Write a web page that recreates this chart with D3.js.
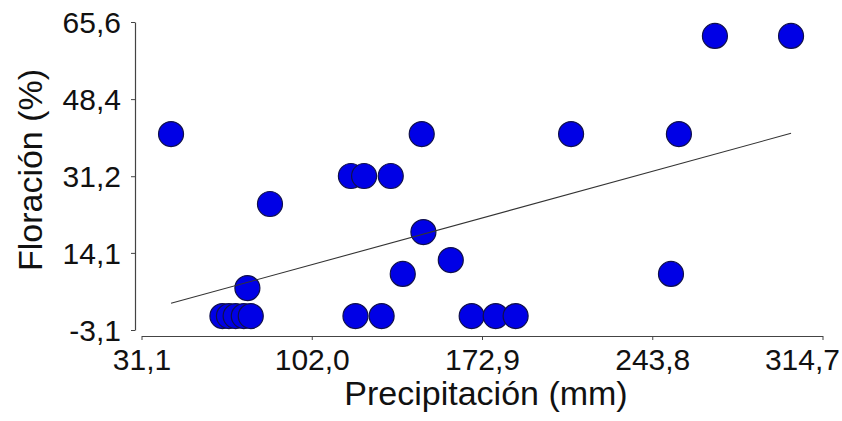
<!DOCTYPE html>
<html>
<head>
<meta charset="utf-8">
<script src="https://cdn.jsdelivr.net/npm/d3@7"></script>
<style>
  html, body { margin: 0; padding: 0; background: #fff; }
  svg { display: block; }
  text { font-family: "Liberation Sans", Arial, sans-serif; fill: #111; }
</style>
</head>
<body>
<svg id="chart" width="842" height="421"></svg>
<script>
// Precipitation (mm) and flowering (%) per observation
const precipitacion = [43.4, 64.8, 67.5, 70.3, 73.7, 76.6, 75.2, 84.6, 118.3, 123.8,
                       134.9, 120.2, 131.1, 139.9, 147.8, 148.5, 159.9, 168.6, 178.6, 186.9,
                       210.0, 251.6, 254.9, 269.9, 301.6];
const floracion = [40.6, 0, 0, 0, 0, 0, 6.25, 25.0, 31.25, 31.25,
                   31.25, 0, 0, 9.4, 40.6, 18.75, 12.5, 0, 0, 0,
                   40.6, 9.4, 40.6, 62.5, 62.5];

// Fitted trend: floración = intercept + slope * precipitación
const trendIntercept = -3.51;
const trendSlope = 0.1468;

// Axis ticks
const xTicks = [31.1, 102.0, 172.9, 243.8, 314.7];
const yTicks = [-3.1, 14.1, 31.2, 48.4, 65.6];

const xTitle = "Precipitación (mm)";
const yTitle = "Floración (%)";

const W = 842;
const svg = d3.select("#chart");

const x = d3.scaleLinear().domain([31.1, 314.7]).range([141.5, 822.5]);
const y = d3.scaleLinear().domain([-3.1, 65.6]).range([330, 22]);

const fmt = v => d3.format(".1f")(v).replace(".", ",").replace("−", "-");

// Y axis (offset slightly left of the x-axis start)
const yAxis = svg.append("g")
  .attr("transform", "translate(135,0)")
  .call(d3.axisLeft(y).tickValues(yTicks).tickFormat(fmt).tickSize(4).tickSizeOuter(0));
yAxis.select(".domain").attr("stroke", "#444").attr("stroke-width", 1.2);
yAxis.selectAll(".tick line").attr("stroke", "#444");
yAxis.selectAll(".tick text")
  .attr("x", -14).attr("dy", "0.35em")
  .style("font-size", "30px").attr("fill", "#111");

// X axis (drawn a little below the y-axis bottom)
const xAxis = svg.append("g")
  .attr("transform", "translate(0,336)")
  .call(d3.axisBottom(x).tickValues(xTicks).tickFormat(fmt).tickSize(4).tickSizeOuter(0));
xAxis.select(".domain").attr("stroke", "#444").attr("stroke-width", 1.2);
xAxis.selectAll(".tick line").attr("stroke", "#444");
xAxis.selectAll(".tick text")
  .attr("y", 34).attr("dy", 0)
  .style("font-size", "30px").attr("fill", "#111");

// Keep the last tick label inside the drawing area
xAxis.selectAll(".tick").each(function () {
  const t = d3.select(this);
  const txt = t.select("text").node();
  const box = txt.getBBox();
  const tx = +t.attr("transform").match(/translate\(([-\d.]+)/)[1];
  const right = tx + box.x + box.width;
  if (right > W - 2) t.select("text").attr("x", (W - 2) - right);
});

// Axis titles
svg.append("text")
  .attr("x", 486).attr("y", 405)
  .attr("text-anchor", "middle")
  .style("font-size", "34px")
  .text(xTitle);

svg.append("text")
  .attr("transform", "translate(42,170) rotate(-90)")
  .attr("text-anchor", "middle")
  .style("font-size", "34px")
  .text(yTitle);

// Points, drawn left to right so later ones overlap earlier ones
const pts = precipitacion.map((p, i) => ({ p, f: floracion[i] }))
  .sort((a, b) => a.p - b.p);

svg.append("g").selectAll("circle")
  .data(pts)
  .join("circle")
  .attr("cx", d => x(d.p))
  .attr("cy", d => y(d.f))
  .attr("r", 12.5)
  .attr("fill", "#0000e6")
  .attr("stroke", "#10104a")
  .attr("stroke-width", 1.2);

// Trend line across the observed range
const xr = d3.extent(precipitacion);
svg.append("line")
  .attr("x1", x(xr[0])).attr("y1", y(trendIntercept + trendSlope * xr[0]))
  .attr("x2", x(xr[1])).attr("y2", y(trendIntercept + trendSlope * xr[1]))
  .attr("stroke", "#333")
  .attr("stroke-width", 1.1);
</script>
</body>
</html>
